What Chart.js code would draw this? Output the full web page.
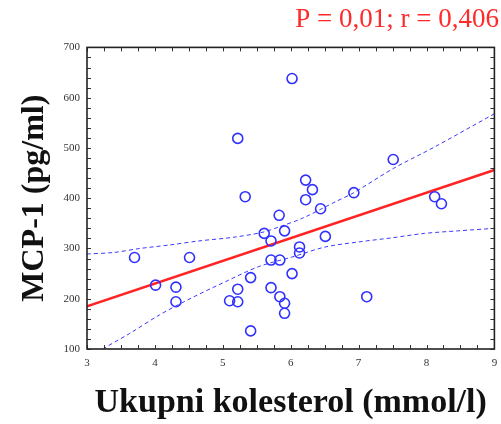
<!DOCTYPE html>
<html>
<head>
<meta charset="utf-8">
<script src="https://cdn.jsdelivr.net/npm/chart.js@4"></script>
<style>
  html, body { margin: 0; padding: 0; background: #fff; }
</style>
</head>
<body>
<canvas id="mcpChart" width="501" height="424"></canvas>
<script>
// values
const cholesterol = [3.70, 4.01, 4.31, 4.31, 4.51, 5.10, 5.22, 5.22, 5.41, 5.41, 5.33, 5.22,
                     5.61, 5.71, 5.71, 5.71, 5.83, 5.91, 5.84, 5.84, 5.91, 5.91, 6.02, 6.13,
                     6.13, 6.51, 7.12, 6.02, 6.22, 6.32, 6.22, 6.44, 6.93, 7.51, 8.12, 8.22];
const mcp1 = [282, 227, 223, 194, 282, 196, 219, 194, 242, 136, 403, 519,
              330, 315, 277, 222, 366, 335, 277, 204, 191, 171, 250, 303,
              291, 324, 204, 638, 436, 417, 397, 379, 411, 477, 403, 389];

// regression line
const fitX = [3, 9];
const fitY = [185, 456];

// 95% confidence band
const upperX = [3, 3.39, 3.78, 4.22, 4.65, 5.14, 5.58, 5.83, 6.17, 6.66, 6.93, 7.51, 8.12, 9];
const upperY = [289, 292, 300, 307, 315, 322, 332, 343, 360, 393, 411, 459, 502, 568];
const lowerX = [3, 3.24, 3.63, 4.07, 4.56, 5.04, 5.53, 6.02, 6.51, 7.0, 7.48, 7.97, 8.46, 9];
const lowerY = [72, 100, 131, 168, 203, 234, 264, 283, 303, 313, 321, 330, 335, 340];

const xRange = [3, 9];
const yRange = [100, 700];

const toXY = (xs, ys) => xs.map((x, i) => ({ x: x, y: ys[i] }));

// box around the plot with inward tick marks, like the original
const boxTicks = {
  id: 'boxTicks',
  afterDraw(chart) {
    const ctx = chart.ctx;
    const area = chart.chartArea;
    const xs = chart.scales.x;
    const ys = chart.scales.y;
    ctx.save();
    ctx.strokeStyle = '#333';
    ctx.lineWidth = 1;
    for (let v = xRange[0]; v <= xRange[1] + 1e-9; v += 0.25) {
      const px = Math.round(xs.getPixelForValue(v)) + 0.5;
      ctx.beginPath();
      ctx.moveTo(px, area.bottom); ctx.lineTo(px, area.bottom - 4);
      ctx.moveTo(px, area.top); ctx.lineTo(px, area.top + 4);
      ctx.stroke();
    }
    for (let v = yRange[0]; v <= yRange[1] + 1e-9; v += 20) {
      const py = Math.round(ys.getPixelForValue(v)) + 0.5;
      ctx.beginPath();
      ctx.moveTo(area.left, py); ctx.lineTo(area.left + 4, py);
      ctx.moveTo(area.right, py); ctx.lineTo(area.right - 4, py);
      ctx.stroke();
    }
    ctx.lineWidth = 1.6;
    ctx.strokeStyle = '#222';
    ctx.strokeRect(area.left, area.top, area.right - area.left, area.bottom - area.top);
    ctx.restore();
  }
};

const ctx = document.getElementById('mcpChart').getContext('2d');
const mcpChart = new Chart(ctx, {
  type: 'scatter',
  data: {
    datasets: [
      {
        label: 'MCP-1',
        data: toXY(cholesterol, mcp1),
        pointRadius: 5,
        pointBorderWidth: 1.6,
        pointBorderColor: '#3030ff',
        pointBackgroundColor: 'rgba(255,255,255,0)',
        showLine: false
      },
      {
        label: 'fit',
        data: toXY(fitX, fitY),
        showLine: true,
        borderColor: '#ff2424',
        borderWidth: 2.5,
        pointRadius: 0
      },
      {
        label: 'upper',
        data: toXY(upperX, upperY),
        showLine: true,
        borderColor: '#3a3aff',
        borderWidth: 1,
        borderDash: [4, 3],
        tension: 0.3,
        pointRadius: 0
      },
      {
        label: 'lower',
        data: toXY(lowerX, lowerY),
        showLine: true,
        borderColor: '#3a3aff',
        borderWidth: 1,
        borderDash: [4, 3],
        tension: 0.3,
        pointRadius: 0
      }
    ]
  },
  options: {
    responsive: false,
    animation: false,
    layout: { padding: { right: 2 } },
    plugins: {
      legend: { display: false },
      tooltip: { enabled: false },
      title: {
        display: true,
        text: 'P = 0,01; r = 0,406',
        align: 'end',
        color: '#ff2a2a',
        font: { family: 'Liberation Serif', size: 27, weight: 'normal' },
        padding: { top: 4, bottom: 11 }
      }
    },
    scales: {
      x: {
        type: 'linear',
        min: xRange[0],
        max: xRange[1],
        grid: { display: false, drawTicks: false },
        border: { display: false },
        ticks: {
          stepSize: 1,
          padding: 8,
          color: '#333',
          font: { family: 'Liberation Serif', size: 11 }
        },
        title: {
          display: true,
          text: 'Ukupni kolesterol (mmol/l)',
          color: '#111',
          font: { family: 'Liberation Serif', size: 34, weight: 'bold' },
          padding: { top: 0, bottom: 0 }
        },
        afterFit: scale => {
          scale.height = 75;
          scale.paddingLeft = 0;
          scale.paddingRight = 0;
        }
      },
      y: {
        min: yRange[0],
        max: yRange[1],
        grid: { display: false, drawTicks: false },
        border: { display: false },
        ticks: {
          stepSize: 100,
          padding: 7,
          color: '#333',
          font: { family: 'Liberation Serif', size: 11 }
        },
        title: {
          display: true,
          text: 'MCP-1 (pg/ml)',
          color: '#111',
          font: { family: 'Liberation Serif', size: 32, weight: 'bold' },
          padding: { top: 16, bottom: 0 }
        },
        afterFit: scale => { scale.width = 87; }
      }
    }
  },
  plugins: [boxTicks]
});
</script>
</body>
</html>
